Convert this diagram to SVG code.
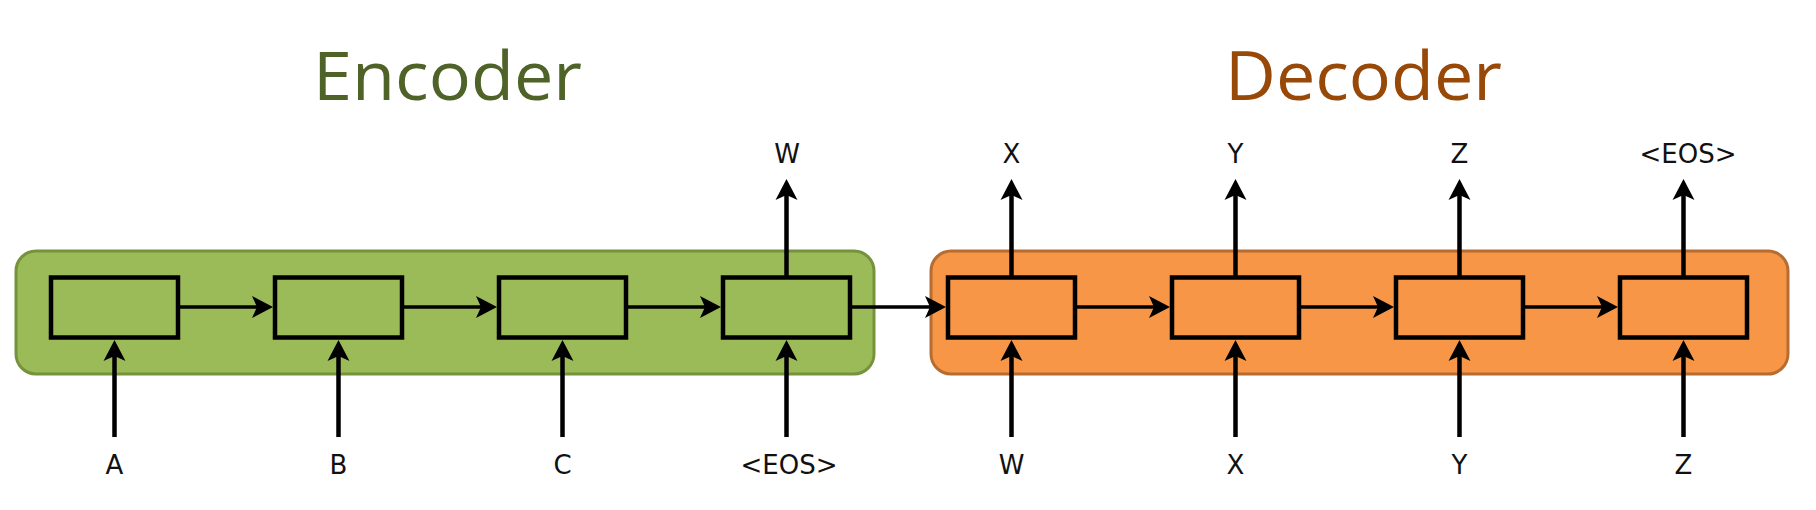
<svg xmlns="http://www.w3.org/2000/svg" xmlns:xlink="http://www.w3.org/1999/xlink" width="1816" height="510" viewBox="0 0 1816 510">
<style>
.bgE{fill:#9bbb59;stroke:#76923c;stroke-width:3}
.bgD{fill:#f79646;stroke:#b66d31;stroke-width:3}
.cellE{fill:#9bbb59;stroke:#000;stroke-width:4.5}
.cellD{fill:#f79646;stroke:#000;stroke-width:4.5}
.h{stroke:#000;stroke-width:3.5;fill:none}
.v{stroke:#000;stroke-width:4.5;fill:none}
.lbl{font-family:"DejaVu Sans",Verdana,sans-serif;font-size:26px;fill:#111;text-anchor:middle}
.title{font-family:"Open Sans",Lato,sans-serif;font-size:68px;text-anchor:middle}
</style>
<defs>
<path id="ah" d="M0,0 L-11,21 L0,16 L11,21 Z" fill="#000"/>
</defs>
<rect width="1816" height="510" fill="#fff"/>
<g id="titles">
<text class="title" x="447.5" y="100" fill="#4f6228" textLength="269" lengthAdjust="spacingAndGlyphs">Encoder</text>
<text class="title" x="1363.5" y="100" fill="#984807" textLength="277" lengthAdjust="spacingAndGlyphs">Decoder</text>
</g>
<g id="encoder-bg"><rect class="bgE" x="16" y="251" width="858" height="123" rx="20"/></g>
<g id="decoder-bg"><rect class="bgD" x="931" y="251" width="857" height="123" rx="20"/></g>
<g id="enc1"><rect class="cellE" x="51" y="277.5" width="127" height="60"/></g>
<g id="enc2"><rect class="cellE" x="275" y="277.5" width="127" height="60"/></g>
<g id="enc3"><rect class="cellE" x="499" y="277.5" width="127" height="60"/></g>
<g id="enc4"><rect class="cellE" x="723" y="277.5" width="127" height="60"/></g>
<g id="dec1"><rect class="cellD" x="948" y="277.5" width="127" height="60"/></g>
<g id="dec2"><rect class="cellD" x="1172" y="277.5" width="127" height="60"/></g>
<g id="dec3"><rect class="cellD" x="1396" y="277.5" width="127" height="60"/></g>
<g id="dec4"><rect class="cellD" x="1620" y="277.5" width="127" height="60"/></g>
<g id="connectors">
<path class="h" d="M180,307H258M404,307H482M628,307H706M852,307H931M1077,307H1155M1301,307H1379M1525,307H1603"/>
<use xlink:href="#ah" transform="translate(273,307) rotate(90)"/>
<use xlink:href="#ah" transform="translate(497,307) rotate(90)"/>
<use xlink:href="#ah" transform="translate(721,307) rotate(90)"/>
<use xlink:href="#ah" transform="translate(946,307) rotate(90)"/>
<use xlink:href="#ah" transform="translate(1170,307) rotate(90)"/>
<use xlink:href="#ah" transform="translate(1394,307) rotate(90)"/>
<use xlink:href="#ah" transform="translate(1618,307) rotate(90)"/>
<path class="v" d="M114.5,437V356M338.5,437V356M562.5,437V356M786.5,437V356M1011.5,437V356M1235.5,437V356M1459.5,437V356M1683.5,437V356"/>
<use xlink:href="#ah" transform="translate(114.5,340)"/>
<use xlink:href="#ah" transform="translate(338.5,340)"/>
<use xlink:href="#ah" transform="translate(562.5,340)"/>
<use xlink:href="#ah" transform="translate(786.5,340)"/>
<use xlink:href="#ah" transform="translate(1011.5,340)"/>
<use xlink:href="#ah" transform="translate(1235.5,340)"/>
<use xlink:href="#ah" transform="translate(1459.5,340)"/>
<use xlink:href="#ah" transform="translate(1683.5,340)"/>
<path class="v" d="M786.5,276V195M1011.5,276V195M1235.5,276V195M1459.5,276V195M1683.5,276V195"/>
<use xlink:href="#ah" transform="translate(786.5,179)"/>
<use xlink:href="#ah" transform="translate(1011.5,179)"/>
<use xlink:href="#ah" transform="translate(1235.5,179)"/>
<use xlink:href="#ah" transform="translate(1459.5,179)"/>
<use xlink:href="#ah" transform="translate(1683.5,179)"/>
</g>
<g id="labels">
<text class="lbl" x="114.5" y="474">A</text>
<text class="lbl" x="338.5" y="474">B</text>
<text class="lbl" x="562.5" y="474">C</text>
<text class="lbl" x="789" y="474">&lt;EOS&gt;</text>
<text class="lbl" x="1011.5" y="474">W</text>
<text class="lbl" x="1235.5" y="474">X</text>
<text class="lbl" x="1459.5" y="474">Y</text>
<text class="lbl" x="1683.5" y="474">Z</text>
<text class="lbl" x="787" y="163">W</text>
<text class="lbl" x="1011.5" y="163">X</text>
<text class="lbl" x="1235.5" y="163">Y</text>
<text class="lbl" x="1459.5" y="163">Z</text>
<text class="lbl" x="1688" y="163">&lt;EOS&gt;</text>
</g>
</svg>
